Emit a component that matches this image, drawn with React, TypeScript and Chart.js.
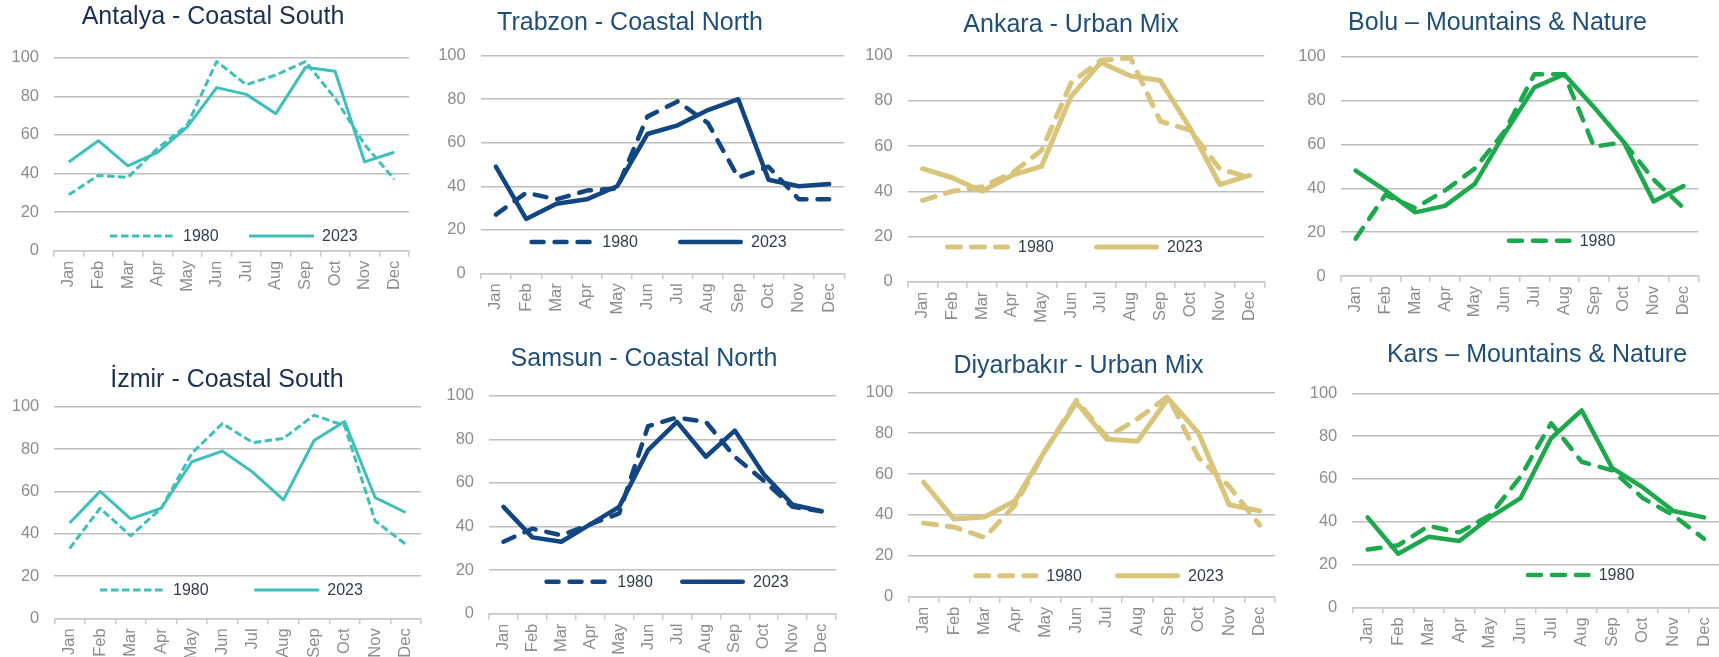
import React, { useEffect, useRef } from "react";
import { Chart, registerables } from "chart.js";

Chart.register(...registerables);

const MONTHS = ["Jan", "Feb", "Mar", "Apr", "May", "Jun", "Jul", "Aug", "Sep", "Oct", "Nov", "Dec"];
const SERIES_LABELS = ["1980", "2023"];

const ANTALYA_1980 = [29, 39, 38, 53, 65, 98, 86, 91, 98, 79, 55, 37];
const ANTALYA_2023 = [46, 57, 44, 51, 64, 84.5, 81, 71, 95, 93, 46, 51];
const TRABZON_1980 = [27, 37, 34, 38, 39, 72, 79, 69, 44, 49, 34, 34];
const TRABZON_2023 = [49, 25, 32, 34, 40, 64, 68, 75, 80, 43, 40, 41];
const ANKARA_1980 = [36, 40, 42, 48, 58, 88, 98, 99, 71, 67, 50, 46];
const ANKARA_2023 = [50, 46, 40, 47, 51, 82, 97, 91, 89, 68, 43, 47];
const BOLU_1980 = [17, 37, 31, 39, 49, 66, 92, 92, 59, 61, 44, 31];
const BOLU_2023 = [48, 39, 29, 32, 42, 65, 86, 92, 77, 61, 34, 41];
const IZMIR_1980 = [33, 52, 39, 52, 78, 92, 83, 85, 96, 91, 46, 35];
const IZMIR_2023 = [45, 60, 47, 52, 74, 79, 69, 56, 84, 93, 57, 50];
const SAMSUN_1980 = [33, 39, 36, 41, 46, 86, 90, 88, 72, 61, 49, 47];
const SAMSUN_2023 = [49, 35, 33, 41, 49, 75, 88, 72, 84, 64, 50, 47];
const DIYARBAKIR_1980 = [36, 34, 29, 45, 72, 96, 78, 87, 98, 68, 54, 35];
const DIYARBAKIR_2023 = [56, 38, 39, 47, 72, 95, 77, 76, 97, 80, 45, 42];
const KARS_1980 = [27, 29, 38, 35, 43, 61, 86, 68, 64, 51, 43, 32];
const KARS_2023 = [42, 25, 33, 31, 42, 51, 79, 92, 65, 56, 45, 42];

const Y_TICKS = [0, 20, 40, 60, 80, 100];

const FONT = '"Liberation Sans", Arial, Helvetica, sans-serif';
const TICK_COLOR = "#8C8C8C";
const GRID_COLOR = "#BEBEBE";
const AXIS_COLOR = "#C8C8C8";
const LEGEND_TEXT = "#333D4D";

type LineStyle = { color: string; width: number; dash: number[]; cap: CanvasLineCap };

const TEAL: LineStyle = { color: "#3FBFBA", width: 3, dash: [7.5, 3.5], cap: "butt" };
const NAVY: LineStyle = { color: "#114680", width: 4.5, dash: [12, 11], cap: "round" };
const KHAKI: LineStyle = { color: "#D8C47A", width: 5, dash: [13, 11], cap: "round" };
const GREEN: LineStyle = { color: "#1DA84E", width: 4.5, dash: [13, 11], cap: "round" };

type Panel = {
  title: string;
  titleColor: string;
  d1980: number[];
  d2023: number[];
  style: LineStyle;
  plot: { l: number; t: number; r: number; b: number };
  titleX: number;
  titleY: number;
  legendY: number;
  legendX: number[];
};

const PANELS: Panel[] = [
  { title: "Antalya - Coastal South", titleColor: "#1B2F52", d1980: ANTALYA_1980, d2023: ANTALYA_2023, style: TEAL,
    plot: { l: 54, t: 57.7, r: 409, b: 250.7 }, titleX: 213, titleY: 17.5, legendY: 236, legendX: [110, 249] },
  { title: "Trabzon - Coastal North", titleColor: "#1F4E79", d1980: TRABZON_1980, d2023: TRABZON_2023, style: NAVY,
    plot: { l: 480.7, t: 55.7, r: 844.3, b: 273.3 }, titleX: 630, titleY: 23, legendY: 242, legendX: [529.3, 678] },
  { title: "Ankara - Urban Mix", titleColor: "#1F4E79", d1980: ANKARA_1980, d2023: ANKARA_2023, style: KHAKI,
    plot: { l: 907.7, t: 55.7, r: 1264.3, b: 281.7 }, titleX: 1071, titleY: 25, legendY: 247, legendX: [945, 1094] },
  { title: "Bolu – Mountains & Nature", titleColor: "#1F4E79", d1980: BOLU_1980, d2023: BOLU_2023, style: GREEN,
    plot: { l: 1340.7, t: 56.7, r: 1698.3, b: 276 }, titleX: 1497.5, titleY: 23, legendY: 240.7, legendX: [1506.7] },
  { title: "İzmir - Coastal South", titleColor: "#1B2F52", d1980: IZMIR_1980, d2023: IZMIR_2023, style: TEAL,
    plot: { l: 54.3, t: 406.7, r: 421, b: 618.3 }, titleX: 227, titleY: 380, legendY: 590, legendX: [100, 254.3] },
  { title: "Samsun - Coastal North", titleColor: "#1F4E79", d1980: SAMSUN_1980, d2023: SAMSUN_2023, style: NAVY,
    plot: { l: 489, t: 395.7, r: 836, b: 613.7 }, titleX: 644, titleY: 359, legendY: 581.7, legendX: [544.3, 680] },
  { title: "Diyarbakır - Urban Mix", titleColor: "#1F4E79", d1980: DIYARBAKIR_1980, d2023: DIYARBAKIR_2023, style: KHAKI,
    plot: { l: 908.3, t: 392.3, r: 1275, b: 596.7 }, titleX: 1078.5, titleY: 366, legendY: 575.7, legendX: [973.3, 1115] },
  { title: "Kars – Mountains & Nature", titleColor: "#1F4E79", d1980: KARS_1980, d2023: KARS_2023, style: GREEN,
    plot: { l: 1352.3, t: 393.3, r: 1719.3, b: 607.3 }, titleX: 1537, titleY: 355.3, legendY: 575, legendX: [1525.7] },
];

const TITLE_SIZE = 25;
const TITLE_LH = 1.2;
const LEGEND_LEN = 65;
const LEGEND_GAP = 8;

function geometry(p: Panel) {
  // D = how far the title centre sits left of the plot centre (times two)
  const D = p.plot.l + p.plot.r - 2 * p.titleX;
  const yW = Math.max(48, D);
  const y2W = yW - D;
  const cl = Math.floor(p.plot.l - yW);
  const padL = p.plot.l - yW - cl;
  const cr = Math.ceil(p.plot.r + y2W + 14);
  const padR = cr - p.plot.r - y2W;
  const ct = Math.floor(p.plot.t - 80);
  const pt = p.titleY - ct - (TITLE_SIZE * TITLE_LH) / 2;
  const pb = p.plot.t - ct - pt - TITLE_SIZE * TITLE_LH;
  const cb = Math.ceil(p.plot.b + 62);
  const xH = cb - p.plot.b;
  return { cl, ct, W: cr - cl, H: cb - ct, padL, padR, yW, y2W, xH, pt, pb };
}

const insideLegend = {
  id: "insideLegend",
  afterDraw(chart: any, _args: any, opts: any) {
    const { ctx } = chart;
    const items: { index: number; x: number }[] = opts.items || [];
    const y = opts.y;
    ctx.save();
    for (const it of items) {
      const ds = chart.data.datasets[it.index];
      const w = ds.borderWidth;
      const cap = ds.borderCapStyle || "butt";
      ctx.strokeStyle = ds.borderColor;
      ctx.lineWidth = w;
      ctx.lineCap = cap;
      ctx.setLineDash(ds.borderDash || []);
      const inset = cap === "round" ? w / 2 : 0;
      ctx.beginPath();
      ctx.moveTo(it.x + inset, y);
      ctx.lineTo(it.x + LEGEND_LEN - inset, y);
      ctx.stroke();
      ctx.setLineDash([]);
      ctx.fillStyle = LEGEND_TEXT;
      ctx.font = `16px ${FONT}`;
      ctx.textAlign = "left";
      ctx.textBaseline = "middle";
      ctx.fillText(ds.label, it.x + LEGEND_LEN + LEGEND_GAP, y + 0.5);
    }
    ctx.restore();
  },
};

function PanelChart({ panel }: { panel: Panel }) {
  const ref = useRef<HTMLCanvasElement | null>(null);
  const g = geometry(panel);

  useEffect(() => {
    if (!ref.current) return;
    const s = panel.style;
    const common = {
      borderColor: s.color,
      backgroundColor: s.color,
      borderWidth: s.width,
      borderCapStyle: s.cap,
      borderJoinStyle: "round" as CanvasLineJoin,
      pointRadius: 0,
      pointHoverRadius: 0,
      tension: 0,
      fill: false,
    };
    const chart = new Chart(ref.current, {
      type: "line",
      data: {
        labels: MONTHS,
        datasets: [
          { ...common, label: SERIES_LABELS[0], data: panel.d1980, borderDash: s.dash, order: 1, yAxisID: "y" },
          { ...common, label: SERIES_LABELS[1], data: panel.d2023, borderDash: [], order: 0, yAxisID: "y" },
        ],
      },
      options: {
        responsive: false,
        maintainAspectRatio: false,
        animation: false,
        devicePixelRatio: 1,
        events: [],
        layout: { padding: { left: g.padL, right: g.padR, top: 0, bottom: 0 } },
        plugins: {
          legend: { display: false },
          tooltip: { enabled: false },
          title: {
            display: true,
            text: panel.title,
            color: panel.titleColor,
            font: { family: FONT, size: TITLE_SIZE, weight: "normal", lineHeight: TITLE_LH },
            padding: { top: g.pt, bottom: g.pb },
          },
          insideLegend: {
            y: panel.legendY - g.ct,
            items: panel.legendX.map((x, i) => ({ index: i, x: x - g.cl })),
          },
        } as any,
        scales: {
          x: {
            type: "category",
            offset: true,
            grid: {
              display: true,
              drawOnChartArea: false,
              drawTicks: true,
              tickLength: 6,
              offset: true,
              color: AXIS_COLOR,
              lineWidth: 1.5,
            },
            border: { display: true, color: AXIS_COLOR, width: 1.5 },
            ticks: {
              minRotation: 90,
              maxRotation: 90,
              autoSkip: false,
              padding: 4,
              color: TICK_COLOR,
              font: { family: FONT, size: 16.5 },
            },
            afterFit: (scale: any) => {
              scale.height = g.xH;
            },
          },
          y: {
            type: "linear",
            position: "left",
            min: 0,
            max: 100,
            afterBuildTicks: (scale: any) => {
              scale.ticks = Y_TICKS.map((v) => ({ value: v }));
            },
            grid: { color: GRID_COLOR, lineWidth: 1.5, drawTicks: false },
            border: { display: false },
            ticks: {
              padding: 15,
              color: TICK_COLOR,
              font: { family: FONT, size: 16.5 },
            },
            afterFit: (scale: any) => {
              scale.width = g.yW;
            },
          },
          spacer: {
            type: "linear",
            position: "right",
            min: 0,
            max: 100,
            display: true,
            grid: { display: false, drawTicks: false },
            border: { display: false },
            ticks: { display: false },
            afterFit: (scale: any) => {
              scale.width = g.y2W;
            },
          },
        },
      } as any,
      plugins: [insideLegend as any],
    });
    return () => chart.destroy();
  }, [panel]);

  return (
    <canvas
      ref={ref}
      width={g.W}
      height={g.H}
      style={{ position: "absolute", left: g.cl, top: g.ct, width: g.W, height: g.H }}
    />
  );
}

export default function App() {
  return (
    <div
      style={{
        position: "fixed",
        left: 0,
        top: 0,
        width: 1719,
        height: 657,
        overflow: "hidden",
        background: "#FFFFFF",
      }}
    >
      {PANELS.map((p) => (
        <PanelChart key={p.title} panel={p} />
      ))}
    </div>
  );
}
